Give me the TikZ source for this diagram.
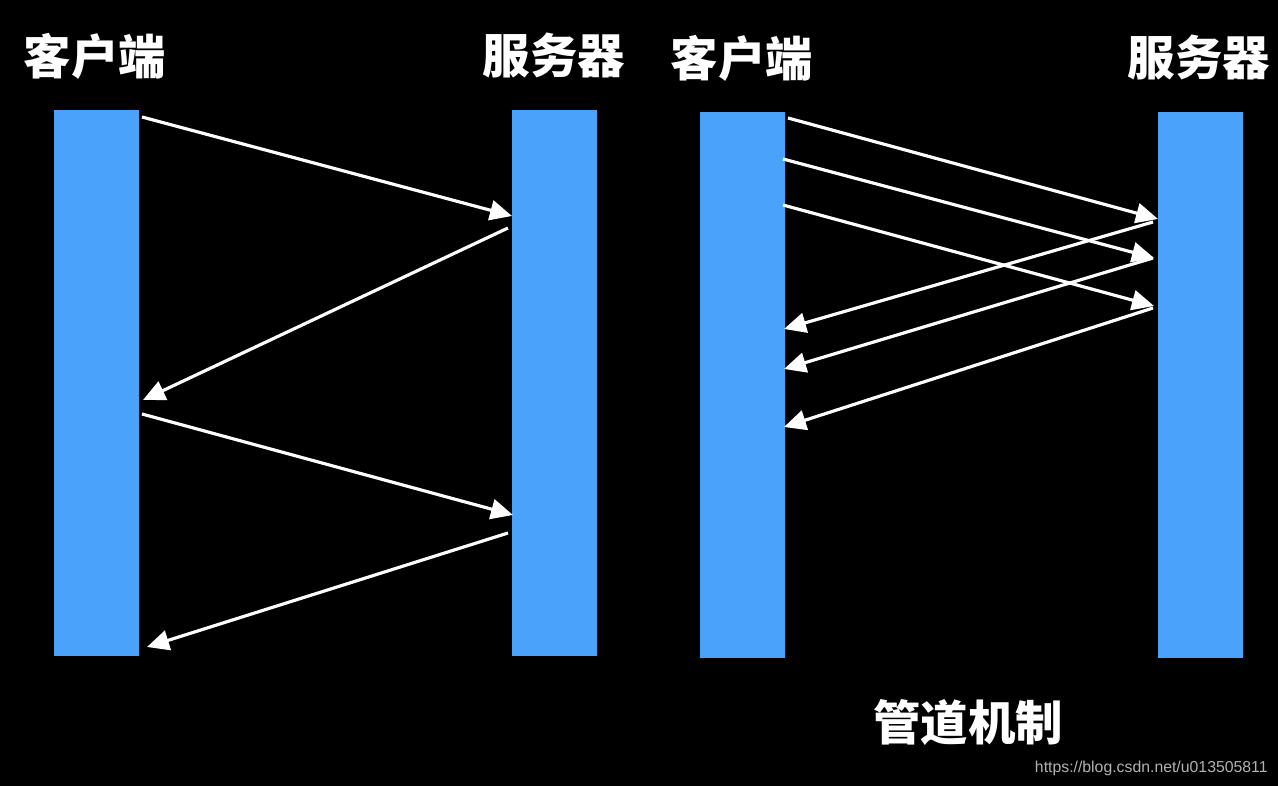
\documentclass[tikz,border=0pt]{standalone}
\usepackage{fontspec}
\usepackage{xcolor}
\usetikzlibrary{arrows.meta}
\newfontfamily\cjk{Noto Sans CJK SC}
\newfontfamily\urlfont{Liberation Sans}
\definecolor{barblue}{RGB}{74,162,250}
\definecolor{markgray}{RGB}{178,178,178}

\begin{document}
\begin{tikzpicture}[x=0.02cm, y=-0.02cm,
    bar/.style={fill=barblue, inner sep=0pt, minimum width=1.7cm, minimum height=10.92cm, anchor=north west},
    title/.style={text=white, inner sep=0pt, font=\cjk\bfseries\fontsize{27}{30}\selectfont},
    msg/.style={white, line width=1.8pt, -{Triangle[length=0.44cm, width=0.4cm]}}]

    % Background and frame of the picture
    \fill[black] (0,0) rectangle (1278,786);
    \useasboundingbox (0,0) rectangle (1278,786);

    % Bars: client and server, without and with pipelining
    \node[bar] (cone) at (54,110) {};
    \node[bar] (sone) at (512,110) {};
    \node[bar] (ctwo) at (700,112) {};
    \node[bar] (stwo) at (1158,112) {};

    % Titles
    \node[title] (conet) at (95,56) {客户端};
    \node[title] (sonet) at (554,56) {服务器};
    \node[title] (ctwot) at (742,58) {客户端};
    \node[title] (stwot) at (1199,58) {服务器};
    \node[title] (pipe) at (968,723) {管道机制};

    % End points of the messages, left panel
    \coordinate (qa) at (142,117);
    \coordinate (qb) at (512,216);
    \coordinate (ra) at (508,228);
    \coordinate (rb) at (143,400);
    \coordinate (qc) at (142,414);
    \coordinate (qd) at (513,515);
    \coordinate (rc) at (508,533);
    \coordinate (rd) at (147,647);

    % End points of the messages, right panel
    \coordinate (pa) at (788,118);
    \coordinate (pb) at (1158,219);
    \coordinate (pc) at (783,159);
    \coordinate (pd) at (1154,258);
    \coordinate (pe) at (783,205);
    \coordinate (pf) at (1154,306);
    \coordinate (ua) at (1153,222);
    \coordinate (ub) at (784,329);
    \coordinate (uc) at (1153,258);
    \coordinate (ud) at (784,369);
    \coordinate (ue) at (1153,308);
    \coordinate (uf) at (784,427);

    % One request at a time
    \draw[msg] (qa) -- (qb);
    \draw[msg] (ra) -- (rb);
    \draw[msg] (qc) -- (qd);
    \draw[msg] (rc) -- (rd);

    % Pipelined requests and replies
    \draw[msg] (pa) -- (pb);
    \draw[msg] (pc) -- (pd);
    \draw[msg] (pe) -- (pf);
    \draw[msg] (ua) -- (ub);
    \draw[msg] (uc) -- (ud);
    \draw[msg] (ue) -- (uf);

    % Watermark
    \node[text=markgray, inner sep=0pt, anchor=base east, font=\urlfont\fontsize{9}{10}\selectfont] (url) at (1268,772) {https://blog.csdn.net/u013505811};
\end{tikzpicture}
\end{document}
